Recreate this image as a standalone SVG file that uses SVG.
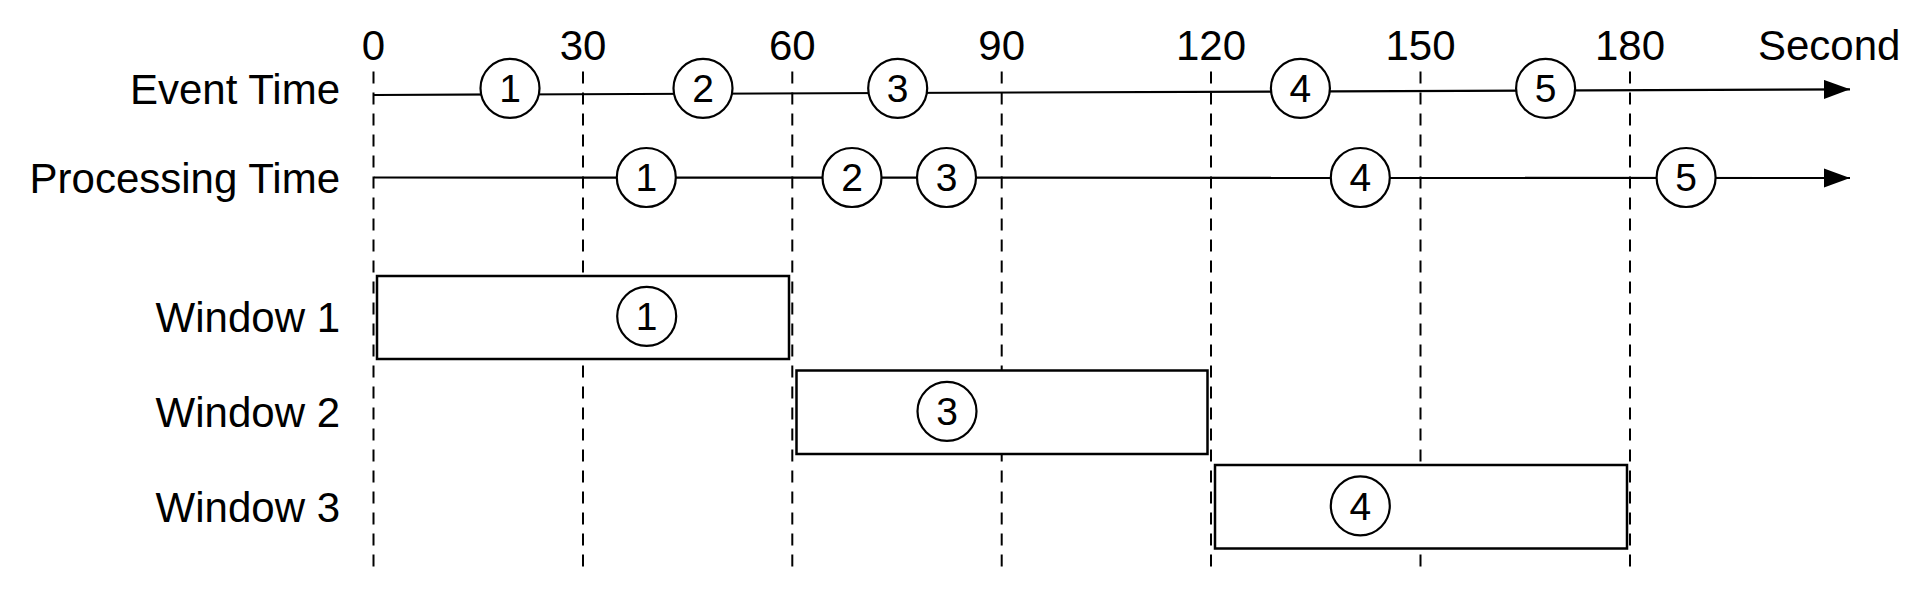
<svg xmlns="http://www.w3.org/2000/svg" width="1920" height="607" viewBox="0 0 1920 607">
<style>
text{font-family:"Liberation Sans",Arial,sans-serif;fill:#000}
.lbl{font-size:42px;text-anchor:end}
.tick{font-size:42px;text-anchor:middle}
.num{font-size:39px;text-anchor:middle}
.grid{stroke:#000;stroke-width:2;stroke-dasharray:12 9;fill:none}
.axis{stroke:#000;stroke-width:2.2;fill:none}
.ev{fill:#fff;stroke:#000;stroke-width:2.2}
.win{fill:#fff;stroke:#000;stroke-width:2.5}
</style>
<defs>
<marker id="arr" markerUnits="userSpaceOnUse" markerWidth="27" markerHeight="20" refX="26" refY="9.5" orient="auto">
<path d="M0,0 L26,9.5 L0,19 Z" fill="#000"/>
</marker>
</defs>
<rect width="1920" height="607" fill="#fff"/>
<g id="grid">
<line class="grid" x1="373.5" y1="71.5" x2="373.5" y2="569"/>
<line class="grid" x1="583" y1="71.5" x2="583" y2="569"/>
<line class="grid" x1="792.3" y1="71.5" x2="792.3" y2="569"/>
<line class="grid" x1="1001.7" y1="71.5" x2="1001.7" y2="569"/>
<line class="grid" x1="1211" y1="71.5" x2="1211" y2="569"/>
<line class="grid" x1="1420.5" y1="71.5" x2="1420.5" y2="569"/>
<line class="grid" x1="1630" y1="71.5" x2="1630" y2="569"/>
</g>
<g id="ticks">
<text class="tick" x="373.5" y="60">0</text>
<text class="tick" x="583" y="60">30</text>
<text class="tick" x="792.3" y="60">60</text>
<text class="tick" x="1001.7" y="60">90</text>
<text class="tick" x="1211" y="60">120</text>
<text class="tick" x="1420.5" y="60">150</text>
<text class="tick" x="1630" y="60">180</text>
<text x="1758" y="60" style="font-size:42px">Second</text>
</g>
<g id="labels">
<text class="lbl" x="340" y="104">Event Time</text>
<text class="lbl" x="340" y="193">Processing Time</text>
<text class="lbl" x="340" y="332">Window 1</text>
<text class="lbl" x="340" y="427">Window 2</text>
<text class="lbl" x="340" y="522">Window 3</text>
</g>
<g id="connectors">
<line class="axis" x1="374" y1="95" x2="1850" y2="89.3" marker-end="url(#arr)"/>
<line class="axis" x1="374" y1="177.5" x2="1850" y2="178" marker-end="url(#arr)"/>
</g>
<g id="event-time">
<g id="ev1"><circle class="ev" cx="510" cy="88.3" r="29.5"/><text class="num" x="510" y="102.2">1</text></g>
<g id="ev2"><circle class="ev" cx="703" cy="88.3" r="29.5"/><text class="num" x="703" y="102.2">2</text></g>
<g id="ev3"><circle class="ev" cx="897.7" cy="88.3" r="29.5"/><text class="num" x="897.7" y="102.2">3</text></g>
<g id="ev4"><circle class="ev" cx="1300.4" cy="88.3" r="29.5"/><text class="num" x="1300.4" y="102.2">4</text></g>
<g id="ev5"><circle class="ev" cx="1545.6" cy="88.3" r="29.5"/><text class="num" x="1545.6" y="102.2">5</text></g>
</g>
<g id="processing-time">
<g id="pr1"><circle class="ev" cx="646.3" cy="177.5" r="29.5"/><text class="num" x="646.3" y="191.4">1</text></g>
<g id="pr2"><circle class="ev" cx="852" cy="177.5" r="29.5"/><text class="num" x="852" y="191.4">2</text></g>
<g id="pr3"><circle class="ev" cx="946.5" cy="177.5" r="29.5"/><text class="num" x="946.5" y="191.4">3</text></g>
<g id="pr4"><circle class="ev" cx="1360.3" cy="177.5" r="29.5"/><text class="num" x="1360.3" y="191.4">4</text></g>
<g id="pr5"><circle class="ev" cx="1686.1" cy="177.5" r="29.5"/><text class="num" x="1686.1" y="191.4">5</text></g>
</g>
<g id="window1">
<rect class="win" x="377" y="276" width="412" height="83"/>
<circle class="ev" cx="646.7" cy="316.3" r="29.5"/><text class="num" x="646.7" y="330.2">1</text>
</g>
<g id="window2">
<rect class="win" x="796.5" y="370.5" width="411" height="83.5"/>
<circle class="ev" cx="947" cy="411.3" r="29.5"/><text class="num" x="947" y="425.2">3</text>
</g>
<g id="window3">
<rect class="win" x="1215" y="465" width="412" height="83.5"/>
<circle class="ev" cx="1360.3" cy="505.8" r="29.5"/><text class="num" x="1360.3" y="519.7">4</text>
</g>
</svg>
